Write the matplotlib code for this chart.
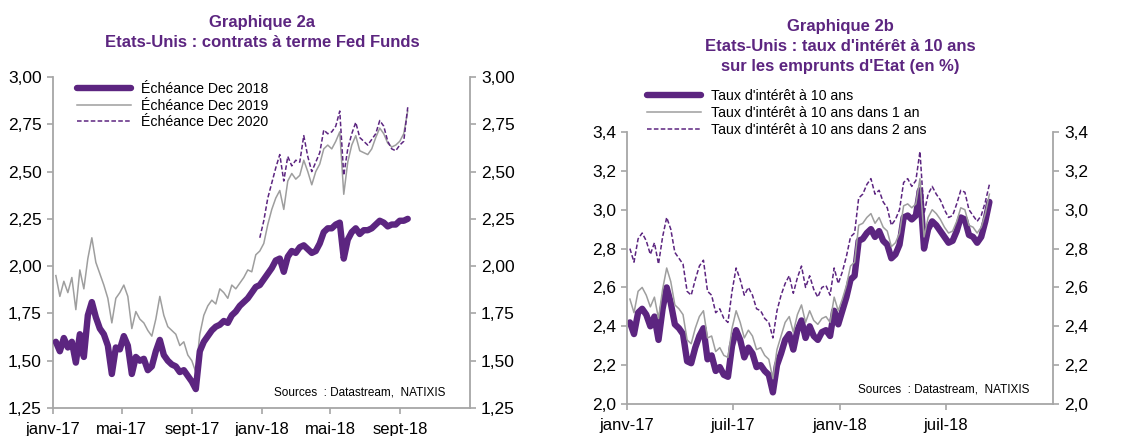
import numpy as np
import pandas as pd
import matplotlib
matplotlib.use("Agg")
import matplotlib.pyplot as plt
from matplotlib.ticker import FuncFormatter

plt.rcParams['font.family'] = ['Liberation Sans', 'DejaVu Sans']

PURPLE = '#5C2580'
GREY = '#9E9E9E'
AXIS_GREY = '#A6A6A6'

# weekly dates (Fridays), Jan 2017 -> mid Sept 2018
dates = pd.date_range('2017-01-06', '2018-09-14', freq='W-FRI')

# --- Graphique 2a : Fed Funds futures ---
fed_dec2018 = [1.60, 1.55, 1.62, 1.57, 1.60, 1.49, 1.64, 1.52, 1.74, 1.81,
               1.73, 1.67, 1.64, 1.58, 1.43, 1.57, 1.56, 1.63, 1.58, 1.43,
               1.52, 1.50, 1.51, 1.45, 1.47, 1.55, 1.61, 1.53, 1.50, 1.48,
               1.47, 1.44, 1.45, 1.42, 1.39, 1.35, 1.55, 1.60, 1.63, 1.66,
               1.68, 1.69, 1.71, 1.70, 1.74, 1.76, 1.79, 1.81, 1.83, 1.86,
               1.89, 1.90, 1.93, 1.96, 1.99, 2.03, 2.04, 1.97, 2.05, 2.08,
               2.07, 2.10, 2.11, 2.09, 2.07, 2.08, 2.12, 2.18, 2.20, 2.20,
               2.22, 2.23, 2.04, 2.14, 2.18, 2.20, 2.17, 2.19, 2.19, 2.20,
               2.22, 2.24, 2.23, 2.21, 2.22, 2.22, 2.24, 2.24, 2.25]
fed_dec2019 = [1.95, 1.84, 1.92, 1.86, 1.94, 1.77, 1.98, 1.88, 2.04, 2.15,
               2.02, 1.96, 1.90, 1.83, 1.70, 1.83, 1.86, 1.90, 1.84, 1.67,
               1.76, 1.72, 1.70, 1.66, 1.63, 1.72, 1.84, 1.74, 1.68, 1.66,
               1.64, 1.58, 1.60, 1.53, 1.50, 1.44, 1.64, 1.74, 1.79, 1.82,
               1.80, 1.88, 1.86, 1.83, 1.90, 1.88, 1.91, 1.94, 1.98, 1.97,
               2.06, 2.08, 2.12, 2.22, 2.30, 2.36, 2.40, 2.30, 2.45, 2.49,
               2.46, 2.48, 2.56, 2.50, 2.43, 2.50, 2.54, 2.62, 2.64, 2.62,
               2.66, 2.71, 2.38, 2.55, 2.64, 2.69, 2.61, 2.60, 2.59, 2.62,
               2.68, 2.73, 2.70, 2.65, 2.63, 2.64, 2.66, 2.70, 2.82]
# Dec 2020 contract only quoted from end of Dec 2017
fed_dec2020 = [np.nan] * 51 + [
               2.15, 2.24, 2.36, 2.44, 2.52, 2.59, 2.45, 2.58, 2.53, 2.56,
               2.55, 2.69, 2.58, 2.50, 2.55, 2.60, 2.72, 2.70, 2.71, 2.74,
               2.82, 2.48, 2.62, 2.70, 2.76, 2.68, 2.66, 2.64, 2.67, 2.70,
               2.77, 2.74, 2.66, 2.62, 2.61, 2.64, 2.66, 2.84]

# --- Graphique 2b : 10y Treasury yields ---
t10 = [2.42, 2.36, 2.47, 2.49, 2.46, 2.40, 2.45, 2.33, 2.49, 2.60,
       2.52, 2.41, 2.39, 2.36, 2.22, 2.21, 2.29, 2.35, 2.39, 2.23,
       2.25, 2.17, 2.19, 2.15, 2.14, 2.30, 2.38, 2.33, 2.24, 2.29,
       2.26, 2.19, 2.20, 2.17, 2.15, 2.06, 2.20, 2.26, 2.33, 2.36,
       2.28, 2.38, 2.43, 2.34, 2.40, 2.35, 2.33, 2.37, 2.38, 2.35,
       2.48, 2.41, 2.48, 2.55, 2.64, 2.66, 2.84, 2.85, 2.88, 2.90,
       2.86, 2.89, 2.84, 2.82, 2.75, 2.77, 2.82, 2.96, 2.97, 2.95,
       2.97, 3.10, 2.80, 2.90, 2.94, 2.92, 2.89, 2.86, 2.83, 2.84,
       2.89, 2.96, 2.95, 2.87, 2.86, 2.83, 2.86, 2.94, 3.04]
t10_in1y = [2.54, 2.47, 2.58, 2.60, 2.56, 2.50, 2.55, 2.44, 2.59, 2.70,
            2.63, 2.51, 2.49, 2.46, 2.33, 2.31, 2.39, 2.45, 2.48, 2.34,
            2.35, 2.27, 2.29, 2.25, 2.24, 2.39, 2.48, 2.42, 2.34, 2.38,
            2.35, 2.28, 2.29, 2.25, 2.23, 2.13, 2.28, 2.35, 2.42, 2.45,
            2.37, 2.46, 2.51, 2.42, 2.48, 2.43, 2.41, 2.44, 2.45, 2.42,
            2.55, 2.48, 2.54, 2.61, 2.71, 2.73, 2.92, 2.93, 2.96, 2.98,
            2.93, 2.96, 2.91, 2.89, 2.81, 2.83, 2.88, 3.02, 3.03, 3.01,
            3.03, 3.16, 2.86, 2.96, 3.00, 2.98, 2.95, 2.91, 2.88, 2.89,
            2.94, 3.01, 3.00, 2.92, 2.91, 2.88, 2.91, 2.98, 3.08]
t10_in2y = [2.80, 2.73, 2.85, 2.88, 2.84, 2.77, 2.83, 2.72, 2.86, 2.96,
            2.90, 2.78, 2.75, 2.72, 2.58, 2.56, 2.64, 2.71, 2.74, 2.58,
            2.56, 2.47, 2.49, 2.44, 2.42, 2.58, 2.70, 2.64, 2.56, 2.60,
            2.56, 2.49, 2.48, 2.44, 2.42, 2.34, 2.48, 2.56, 2.62, 2.66,
            2.57, 2.65, 2.71, 2.60, 2.66, 2.59, 2.55, 2.60, 2.61, 2.56,
            2.70, 2.62, 2.68, 2.76, 2.86, 2.88, 3.06, 3.08, 3.13, 3.16,
            3.08, 3.10, 3.04, 3.01, 2.92, 2.95, 3.00, 3.14, 3.16, 3.12,
            3.15, 3.30, 2.98, 3.08, 3.12, 3.08, 3.05, 3.00, 2.96, 2.97,
            3.03, 3.10, 3.09, 3.00, 2.97, 2.94, 2.97, 3.04, 3.13]

ticks_a = ['2017-01-01', '2017-05-01', '2017-09-01', '2018-01-01', '2018-05-01', '2018-09-01']
labels_a = ['janv-17', 'mai-17', 'sept-17', 'janv-18', 'mai-18', 'sept-18']
ticks_b = ['2017-01-01', '2017-07-01', '2018-01-01', '2018-07-01']
labels_b = ['janv-17', 'juil-17', 'janv-18', 'juil-18']

legend_a = ['Échéance Dec 2018', 'Échéance Dec 2019', 'Échéance Dec 2020']
legend_b = ["Taux d'intérêt à 10 ans", "Taux d'intérêt à 10 ans dans 1 an",
            "Taux d'intérêt à 10 ans dans 2 ans"]
source = 'Sources  : Datastream,  NATIXIS'

W, H = 1131, 436
fig = plt.figure(figsize=(W / 100, H / 100), dpi=100)


def px_axes(x0, x1, ytop, ybot):
    return fig.add_axes([x0 / W, 1 - ybot / H, (x1 - x0) / W, (ybot - ytop) / H])


def style_axes(ax, ticks, labels, ylim, ystep, fmt):
    ax.set_xlim(pd.Timestamp('2017-01-01'), pd.Timestamp('2019-01-01'))
    ax.set_xticks([pd.Timestamp(t) for t in ticks])
    ax.set_xticklabels(labels)
    ax.set_ylim(*ylim)
    ax.set_yticks(np.arange(ylim[0], ylim[1] + 1e-9, ystep))
    ax.yaxis.set_major_formatter(FuncFormatter(lambda v, p: fmt.format(v).replace('.', ',')))
    ax.spines['top'].set_visible(False)
    for s in ['left', 'right', 'bottom']:
        ax.spines[s].set_color(AXIS_GREY)
        ax.spines[s].set_linewidth(1.3)
    ax.tick_params(axis='y', which='both', left=True, right=True, labelleft=True,
                   labelright=True, direction='out', length=4, width=1.2,
                   color=AXIS_GREY, labelsize=12.5, pad=4)
    ax.tick_params(axis='x', direction='out', length=4, width=1.2, color=AXIS_GREY,
                   labelsize=12, pad=6)


def title(x, lines, y0):
    for i, line in enumerate(lines):
        fig.text(x / W, 1 - (y0 + 19.5 * i) / H, line, ha='center', va='center',
                 fontsize=12, fontweight='bold', color=PURPLE)


# left chart
ax1 = px_axes(53, 470, 77, 408)
ax1.plot(dates, fed_dec2018, color=PURPLE, lw=4.6, solid_capstyle='round', label=legend_a[0], zorder=3)
ax1.plot(dates, fed_dec2019, color=GREY, lw=1.1, label=legend_a[1], zorder=2)
ax1.plot(dates, fed_dec2020, color=PURPLE, lw=1.1, ls=(0, (3, 1.5)), label=legend_a[2], zorder=4)
style_axes(ax1, ticks_a, labels_a, (1.25, 3.00), 0.25, '{:.2f}')
ax1.legend(loc='upper left', bbox_to_anchor=(77 / W, 1 - 82 / H), bbox_transform=fig.transFigure,
           frameon=False, fontsize=10.2, handlelength=3.8, handletextpad=0.7,
           labelspacing=0.18, borderpad=0, borderaxespad=0)
ax1.text(0.94, 0.03, source, transform=ax1.transAxes, ha='right', va='bottom', fontsize=8.5)
title(262, ['Graphique 2a', 'Etats-Unis : contrats à terme Fed Funds'], 23)

# right chart
ax2 = px_axes(627, 1053, 132, 404)
ax2.plot(dates, t10, color=PURPLE, lw=4.6, solid_capstyle='round', label=legend_b[0], zorder=2)
ax2.plot(dates, t10_in1y, color=GREY, lw=1.1, label=legend_b[1], zorder=3)
ax2.plot(dates, t10_in2y, color=PURPLE, lw=1.1, ls=(0, (3, 1.5)), label=legend_b[2], zorder=4)
style_axes(ax2, ticks_b, labels_b, (2.0, 3.4), 0.2, '{:.1f}')
ax2.legend(loc='upper left', bbox_to_anchor=(647 / W, 1 - 89 / H), bbox_transform=fig.transFigure,
           frameon=False, fontsize=10.2, handlelength=3.8, handletextpad=0.7,
           labelspacing=0.22, borderpad=0, borderaxespad=0)
ax2.text(0.945, 0.03, source, transform=ax2.transAxes, ha='right', va='bottom', fontsize=8.5)
title(840, ['Graphique 2b', "Etats-Unis : taux d'intérêt à 10 ans",
            "sur les emprunts d'Etat (en %)"], 27)

fig.savefig('out.png', dpi=100)
